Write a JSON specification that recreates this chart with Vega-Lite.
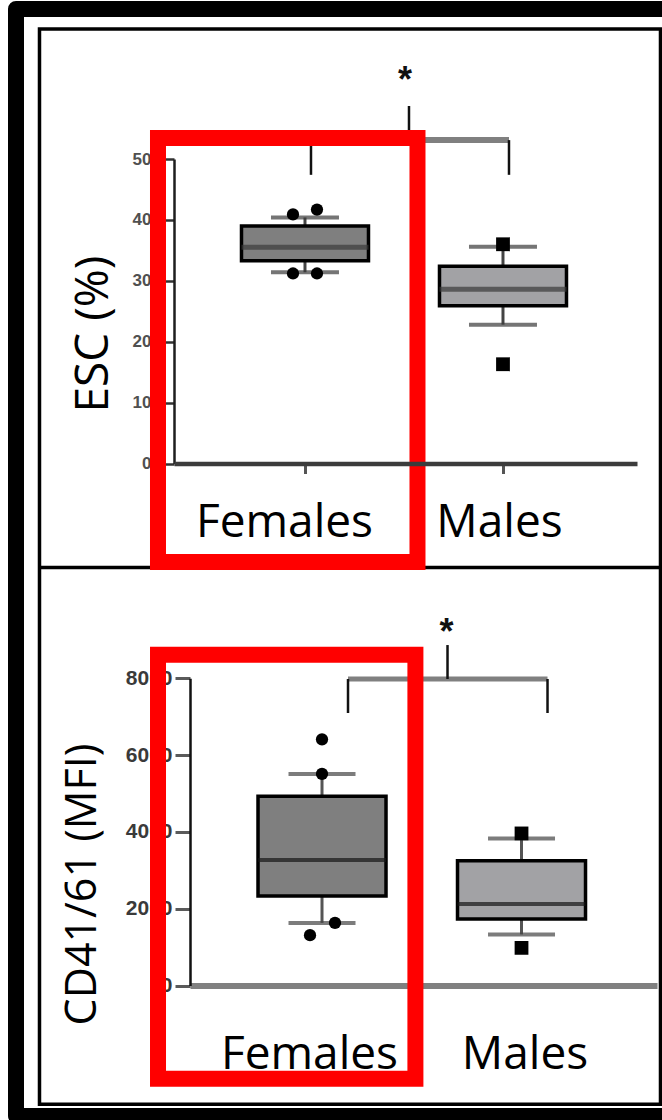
{
  "$schema": "https://vega.github.io/schema/vega-lite/v6.json",
  "width": 646,
  "height": 1107,
  "padding": {"left": 16, "top": 9, "right": 0, "bottom": 4},
  "autosize": {"type": "none"},
  "background": "white",
  "config": {
    "view": {
      "stroke": "black",
      "strokeWidth": 16,
      "strokeDash": [646, 1107, 1753],
      "strokeCap": "round",
      "strokeJoin": "round"
    },
    "axis": {"grid": false, "labelOverlap": false, "labelBound": false, "labelFlush": false, "labelLimit": 400}
  },
  "datasets": {
    "escBoxes": [
      {"sex": "Females", "lower": 31.4, "q1": 33.3, "median": 35.5, "q3": 39.0, "upper": 40.4},
      {"sex": "Males", "lower": 22.8, "q1": 25.9, "median": 28.6, "q3": 32.4, "upper": 35.6}
    ],
    "escPoints": [
      {"sex": "Females", "value": 40.9, "side": "left"},
      {"sex": "Females", "value": 41.7, "side": "right"},
      {"sex": "Females", "value": 31.2, "side": "left"},
      {"sex": "Females", "value": 31.2, "side": "right"},
      {"sex": "Males", "value": 36.0, "side": "center"},
      {"sex": "Males", "value": 16.3, "side": "center"}
    ],
    "cdBoxes": [
      {"sex": "Females", "lower": 1630, "q1": 2330, "median": 3270, "q3": 4930, "upper": 5510},
      {"sex": "Males", "lower": 1330, "q1": 1730, "median": 2120, "q3": 3250, "upper": 3830}
    ],
    "cdPoints": [
      {"sex": "Females", "value": 6410, "side": "center"},
      {"sex": "Females", "value": 5510, "side": "center"},
      {"sex": "Females", "value": 1630, "side": "right"},
      {"sex": "Females", "value": 1310, "side": "left"},
      {"sex": "Males", "value": 3960, "side": "center"},
      {"sex": "Males", "value": 980, "side": "center"}
    ]
  },
  "layer": [
    {
      "layer": [
        {
          "data": {"values": [{}]},
          "mark": {"type": "rect", "filled": false, "stroke": "black", "strokeWidth": 3.5, "xOffset": -265.5, "x2Offset": 157.5},
          "encoding": {
            "x": {"datum": "Females", "type": "nominal"},
            "x2": {"datum": "Males"},
            "y": {"datum": 71.35, "type": "quantitative"},
            "y2": {"datum": -105.2}
          }
        },
        {
          "data": {"values": [{}]},
          "mark": {"type": "rule", "stroke": "black", "strokeWidth": 3.5, "xOffset": -265.5, "x2Offset": 157.5},
          "encoding": {
            "x": {"datum": "Females", "type": "nominal"},
            "x2": {"datum": "Males"},
            "y": {"datum": -17.08, "type": "quantitative"}
          }
        },
        {
          "data": {"name": "escBoxes"},
          "mark": {"type": "rule", "color": "#444444", "strokeWidth": 3},
          "encoding": {
            "x": {"field": "sex", "type": "nominal"},
            "y": {"field": "q3", "type": "quantitative"},
            "y2": {"field": "upper"}
          }
        },
        {
          "data": {"name": "escBoxes"},
          "mark": {"type": "rule", "color": "#444444", "strokeWidth": 3},
          "encoding": {
            "x": {"field": "sex", "type": "nominal"},
            "y": {"field": "q1", "type": "quantitative"},
            "y2": {"field": "lower"}
          }
        },
        {
          "data": {"name": "escBoxes"},
          "mark": {"type": "bar", "size": 127, "stroke": "black", "strokeWidth": 3.5},
          "encoding": {
            "x": {
              "field": "sex", "type": "nominal",
              "scale": {"type": "point", "domain": ["Females", "Males"], "range": [158, 621], "padding": 0.6692, "align": 0.4943},
              "axis": {
                "orient": "bottom", "offset": -652.5, "title": null,
                "domainColor": "#3c3c3c", "domainWidth": 4.5,
                "tickColor": "#555555", "tickWidth": 3, "tickSize": 10,
                "labelFont": "Open Sans", "labelFontSize": 46, "labelColor": "#000000",
                "labelAngle": 0, "labelAlign": "center", "labelBaseline": "alphabetic", "labelPadding": 62.5,
                "labelOffset": {"condition": {"test": "datum.value === 'Females'", "value": -21}, "value": -4}
              }
            },
            "y": {
              "field": "q1", "type": "quantitative",
              "scale": {"domain": [0, 50], "range": [454.5, 150], "nice": false, "zero": false},
              "axis": {
                "orient": "left", "offset": -158, "values": [0, 10, 20, 30, 40, 50], "format": "d",
                "domainColor": "#1e1e1e", "domainWidth": 2.5,
                "tickColor": "#333333", "tickWidth": 2.5, "tickSize": 9,
                "labelFont": "Liberation Sans", "labelFontSize": 17, "labelFontWeight": "bold", "labelColor": "#505050", "labelPadding": 14,
                "title": "ESC (%)", "titleFont": "Open Sans", "titleFontSize": 46, "titleFontWeight": "normal", "titleColor": "#000000",
                "titleAngle": 270, "titleAlign": "center", "titleBaseline": "alphabetic", "titleX": -67, "titleY": 324.5
              }
            },
            "y2": {"field": "q3"},
            "color": {"field": "sex", "type": "nominal", "scale": {"domain": ["Females", "Males"], "range": ["#7f7f7f", "#a2a2a5"]}, "legend": null}
          }
        },
        {
          "data": {"name": "escBoxes"},
          "mark": {"type": "tick", "size": 127, "thickness": 5, "color": "#3a3a3a"},
          "encoding": {
            "x": {"field": "sex", "type": "nominal"},
            "y": {"field": "median", "type": "quantitative"}
          }
        },
        {
          "data": {"name": "escBoxes"},
          "transform": [{"fold": ["lower", "upper"], "as": ["stat", "whisker"]}],
          "mark": {"type": "tick", "size": 68, "thickness": 4, "color": "#3a3a3a"},
          "encoding": {
            "x": {"field": "sex", "type": "nominal"},
            "y": {"field": "whisker", "type": "quantitative"}
          }
        },
        {
          "data": {"name": "escPoints"},
          "transform": [{"filter": "datum.side === 'left'"}],
          "mark": {"type": "point", "filled": true, "opacity": 1, "color": "#000000", "xOffset": -12},
          "encoding": {
            "x": {"field": "sex", "type": "nominal"},
            "y": {"field": "value", "type": "quantitative"},
            "shape": {"field": "sex", "type": "nominal", "scale": {"domain": ["Females", "Males"], "range": ["circle", "square"]}, "legend": null},
            "size": {"field": "sex", "type": "nominal", "scale": {"domain": ["Females", "Males"], "range": [150, 190]}, "legend": null}
          }
        },
        {
          "data": {"name": "escPoints"},
          "transform": [{"filter": "datum.side === 'right'"}],
          "mark": {"type": "point", "filled": true, "opacity": 1, "color": "#000000", "xOffset": 12},
          "encoding": {
            "x": {"field": "sex", "type": "nominal"},
            "y": {"field": "value", "type": "quantitative"},
            "shape": {"field": "sex", "type": "nominal"},
            "size": {"field": "sex", "type": "nominal"}
          }
        },
        {
          "data": {"name": "escPoints"},
          "transform": [{"filter": "datum.side === 'center'"}],
          "mark": {"type": "point", "filled": true, "opacity": 1, "color": "#000000"},
          "encoding": {
            "x": {"field": "sex", "type": "nominal"},
            "y": {"field": "value", "type": "quantitative"},
            "shape": {"field": "sex", "type": "nominal"},
            "size": {"field": "sex", "type": "nominal"}
          }
        },
        {
          "data": {"values": [{}]},
          "mark": {"type": "rule", "color": "#808080", "strokeWidth": 6, "xOffset": 6, "x2Offset": 6},
          "encoding": {
            "x": {"datum": "Females", "type": "nominal"},
            "x2": {"datum": "Males"},
            "y": {"datum": 53.1, "type": "quantitative"}
          }
        },
        {
          "data": {"values": [{"end": "Females"}, {"end": "Males"}]},
          "mark": {"type": "rule", "color": "#111111", "strokeWidth": 2.5, "xOffset": 6},
          "encoding": {
            "x": {"field": "end", "type": "nominal"},
            "y": {"datum": 53.1, "type": "quantitative"},
            "y2": {"datum": 47.4}
          }
        },
        {
          "data": {"values": [{}]},
          "mark": {"type": "rule", "color": "#111111", "strokeWidth": 2.5, "xOffset": 104},
          "encoding": {
            "x": {"datum": "Females", "type": "nominal"},
            "y": {"datum": 53.1, "type": "quantitative"},
            "y2": {"datum": 58.7}
          }
        },
        {
          "data": {"values": [{}]},
          "mark": {"type": "text", "text": "*", "font": "Liberation Sans", "fontSize": 36, "fontWeight": "bold", "color": "#111111", "align": "center", "baseline": "alphabetic", "xOffset": 100},
          "encoding": {
            "x": {"datum": "Females", "type": "nominal"},
            "y": {"datum": 61.0, "type": "quantitative"}
          }
        },
        {
          "data": {"values": [{}]},
          "mark": {"type": "rect", "filled": false, "stroke": "#ff0000", "strokeWidth": 16, "strokeJoin": "miter", "xOffset": -147, "x2Offset": 112.5},
          "encoding": {
            "x": {"datum": "Females", "type": "nominal"},
            "x2": {"datum": "Females"},
            "y": {"datum": 53.45, "type": "quantitative"},
            "y2": {"datum": -16.17}
          }
        }
      ]
    },
    {
      "layer": [
        {
          "data": {"name": "cdBoxes"},
          "mark": {"type": "rule", "color": "#555555", "strokeWidth": 3},
          "encoding": {
            "x": {"field": "sex", "type": "nominal"},
            "y": {"field": "q3", "type": "quantitative"},
            "y2": {"field": "upper"}
          }
        },
        {
          "data": {"name": "cdBoxes"},
          "mark": {"type": "rule", "color": "#555555", "strokeWidth": 3},
          "encoding": {
            "x": {"field": "sex", "type": "nominal"},
            "y": {"field": "q1", "type": "quantitative"},
            "y2": {"field": "lower"}
          }
        },
        {
          "data": {"name": "cdBoxes"},
          "mark": {"type": "bar", "size": 128, "stroke": "black", "strokeWidth": 3.5},
          "encoding": {
            "x": {
              "field": "sex", "type": "nominal",
              "scale": {"type": "point", "domain": ["Females", "Males"], "range": [174, 641], "padding": 0.6704, "align": 0.4935},
              "axis": {
                "orient": "bottom", "offset": -130.5, "title": null,
                "domainColor": "#808080", "domainWidth": 6,
                "tickColor": "#333333", "tickWidth": 3, "tickSize": 3,
                "labelFont": "Open Sans", "labelFontSize": 46, "labelColor": "#000000",
                "labelAngle": 0, "labelAlign": "center", "labelBaseline": "alphabetic", "labelPadding": 79.5,
                "labelOffset": {"condition": {"test": "datum.value === 'Females'", "value": -13}, "value": 3}
              }
            },
            "y": {
              "field": "q1", "type": "quantitative",
              "scale": {"domain": [0, 8000], "range": [976.5, 669.3], "nice": false, "zero": false},
              "axis": {
                "orient": "left", "offset": -174, "values": [0, 2000, 4000, 6000, 8000], "format": "d",
                "domainColor": "#111111", "domainWidth": 2.5,
                "tickColor": "#5a5a5a", "tickWidth": 3, "tickSize": 15,
                "labelFont": "Liberation Sans", "labelFontSize": 21, "labelFontWeight": "bold", "labelColor": "#3a3a3a", "labelPadding": 3,
                "title": "CD41/61 (MFI)", "titleFont": "Open Sans", "titleFontSize": 43, "titleFontWeight": "normal", "titleColor": "#000000",
                "titleAngle": 270, "titleAlign": "center", "titleBaseline": "alphabetic", "titleX": -95, "titleY": 875
              }
            },
            "y2": {"field": "q3"},
            "color": {"field": "sex", "type": "nominal", "scale": {"domain": ["Females", "Males"], "range": ["#7f7f7f", "#a2a2a5"]}, "legend": null}
          }
        },
        {
          "data": {"name": "cdBoxes"},
          "mark": {"type": "tick", "size": 128, "thickness": 4, "color": "#151515"},
          "encoding": {
            "x": {"field": "sex", "type": "nominal"},
            "y": {"field": "median", "type": "quantitative"}
          }
        },
        {
          "data": {"name": "cdBoxes"},
          "transform": [{"fold": ["lower", "upper"], "as": ["stat", "whisker"]}],
          "mark": {"type": "tick", "size": 67, "thickness": 4, "color": "#444444"},
          "encoding": {
            "x": {"field": "sex", "type": "nominal"},
            "y": {"field": "whisker", "type": "quantitative"}
          }
        },
        {
          "data": {"name": "cdPoints"},
          "transform": [{"filter": "datum.side === 'left'"}],
          "mark": {"type": "point", "filled": true, "opacity": 1, "color": "#000000", "xOffset": -12},
          "encoding": {
            "x": {"field": "sex", "type": "nominal"},
            "y": {"field": "value", "type": "quantitative"},
            "shape": {"field": "sex", "type": "nominal", "scale": {"domain": ["Females", "Males"], "range": ["circle", "square"]}, "legend": null},
            "size": {"field": "sex", "type": "nominal", "scale": {"domain": ["Females", "Males"], "range": [150, 190]}, "legend": null}
          }
        },
        {
          "data": {"name": "cdPoints"},
          "transform": [{"filter": "datum.side === 'right'"}],
          "mark": {"type": "point", "filled": true, "opacity": 1, "color": "#000000", "xOffset": 13},
          "encoding": {
            "x": {"field": "sex", "type": "nominal"},
            "y": {"field": "value", "type": "quantitative"},
            "shape": {"field": "sex", "type": "nominal"},
            "size": {"field": "sex", "type": "nominal"}
          }
        },
        {
          "data": {"name": "cdPoints"},
          "transform": [{"filter": "datum.side === 'center'"}],
          "mark": {"type": "point", "filled": true, "opacity": 1, "color": "#000000"},
          "encoding": {
            "x": {"field": "sex", "type": "nominal"},
            "y": {"field": "value", "type": "quantitative"},
            "shape": {"field": "sex", "type": "nominal"},
            "size": {"field": "sex", "type": "nominal"}
          }
        },
        {
          "data": {"values": [{}]},
          "mark": {"type": "rule", "color": "#808080", "strokeWidth": 5, "xOffset": 26, "x2Offset": 26},
          "encoding": {
            "x": {"datum": "Females", "type": "nominal"},
            "x2": {"datum": "Males"},
            "y": {"datum": 7982, "type": "quantitative"}
          }
        },
        {
          "data": {"values": [{"end": "Females"}, {"end": "Males"}]},
          "mark": {"type": "rule", "color": "#111111", "strokeWidth": 2.5, "xOffset": 26},
          "encoding": {
            "x": {"field": "end", "type": "nominal"},
            "y": {"datum": 7982, "type": "quantitative"},
            "y2": {"datum": 7096}
          }
        },
        {
          "data": {"values": [{}]},
          "mark": {"type": "rule", "color": "#111111", "strokeWidth": 2.5, "xOffset": 125.5},
          "encoding": {
            "x": {"datum": "Females", "type": "nominal"},
            "y": {"datum": 7982, "type": "quantitative"},
            "y2": {"datum": 8866}
          }
        },
        {
          "data": {"values": [{}]},
          "mark": {"type": "text", "text": "*", "font": "Liberation Sans", "fontSize": 36, "fontWeight": "bold", "color": "#111111", "align": "center", "baseline": "alphabetic", "xOffset": 124.5},
          "encoding": {
            "x": {"datum": "Females", "type": "nominal"},
            "y": {"datum": 8893, "type": "quantitative"}
          }
        },
        {
          "data": {"values": [{}]},
          "mark": {"type": "rect", "filled": false, "stroke": "#ff0000", "strokeWidth": 16, "strokeJoin": "miter", "xOffset": -164, "x2Offset": 93.4},
          "encoding": {
            "x": {"datum": "Females", "type": "nominal"},
            "x2": {"datum": "Females"},
            "y": {"datum": 8615, "type": "quantitative"},
            "y2": {"datum": -2427}
          }
        }
      ]
    }
  ],
  "resolve": {
    "scale": {"x": "independent", "y": "independent", "color": "independent", "shape": "independent", "size": "independent"},
    "axis": {"x": "independent", "y": "independent"}
  }
}
